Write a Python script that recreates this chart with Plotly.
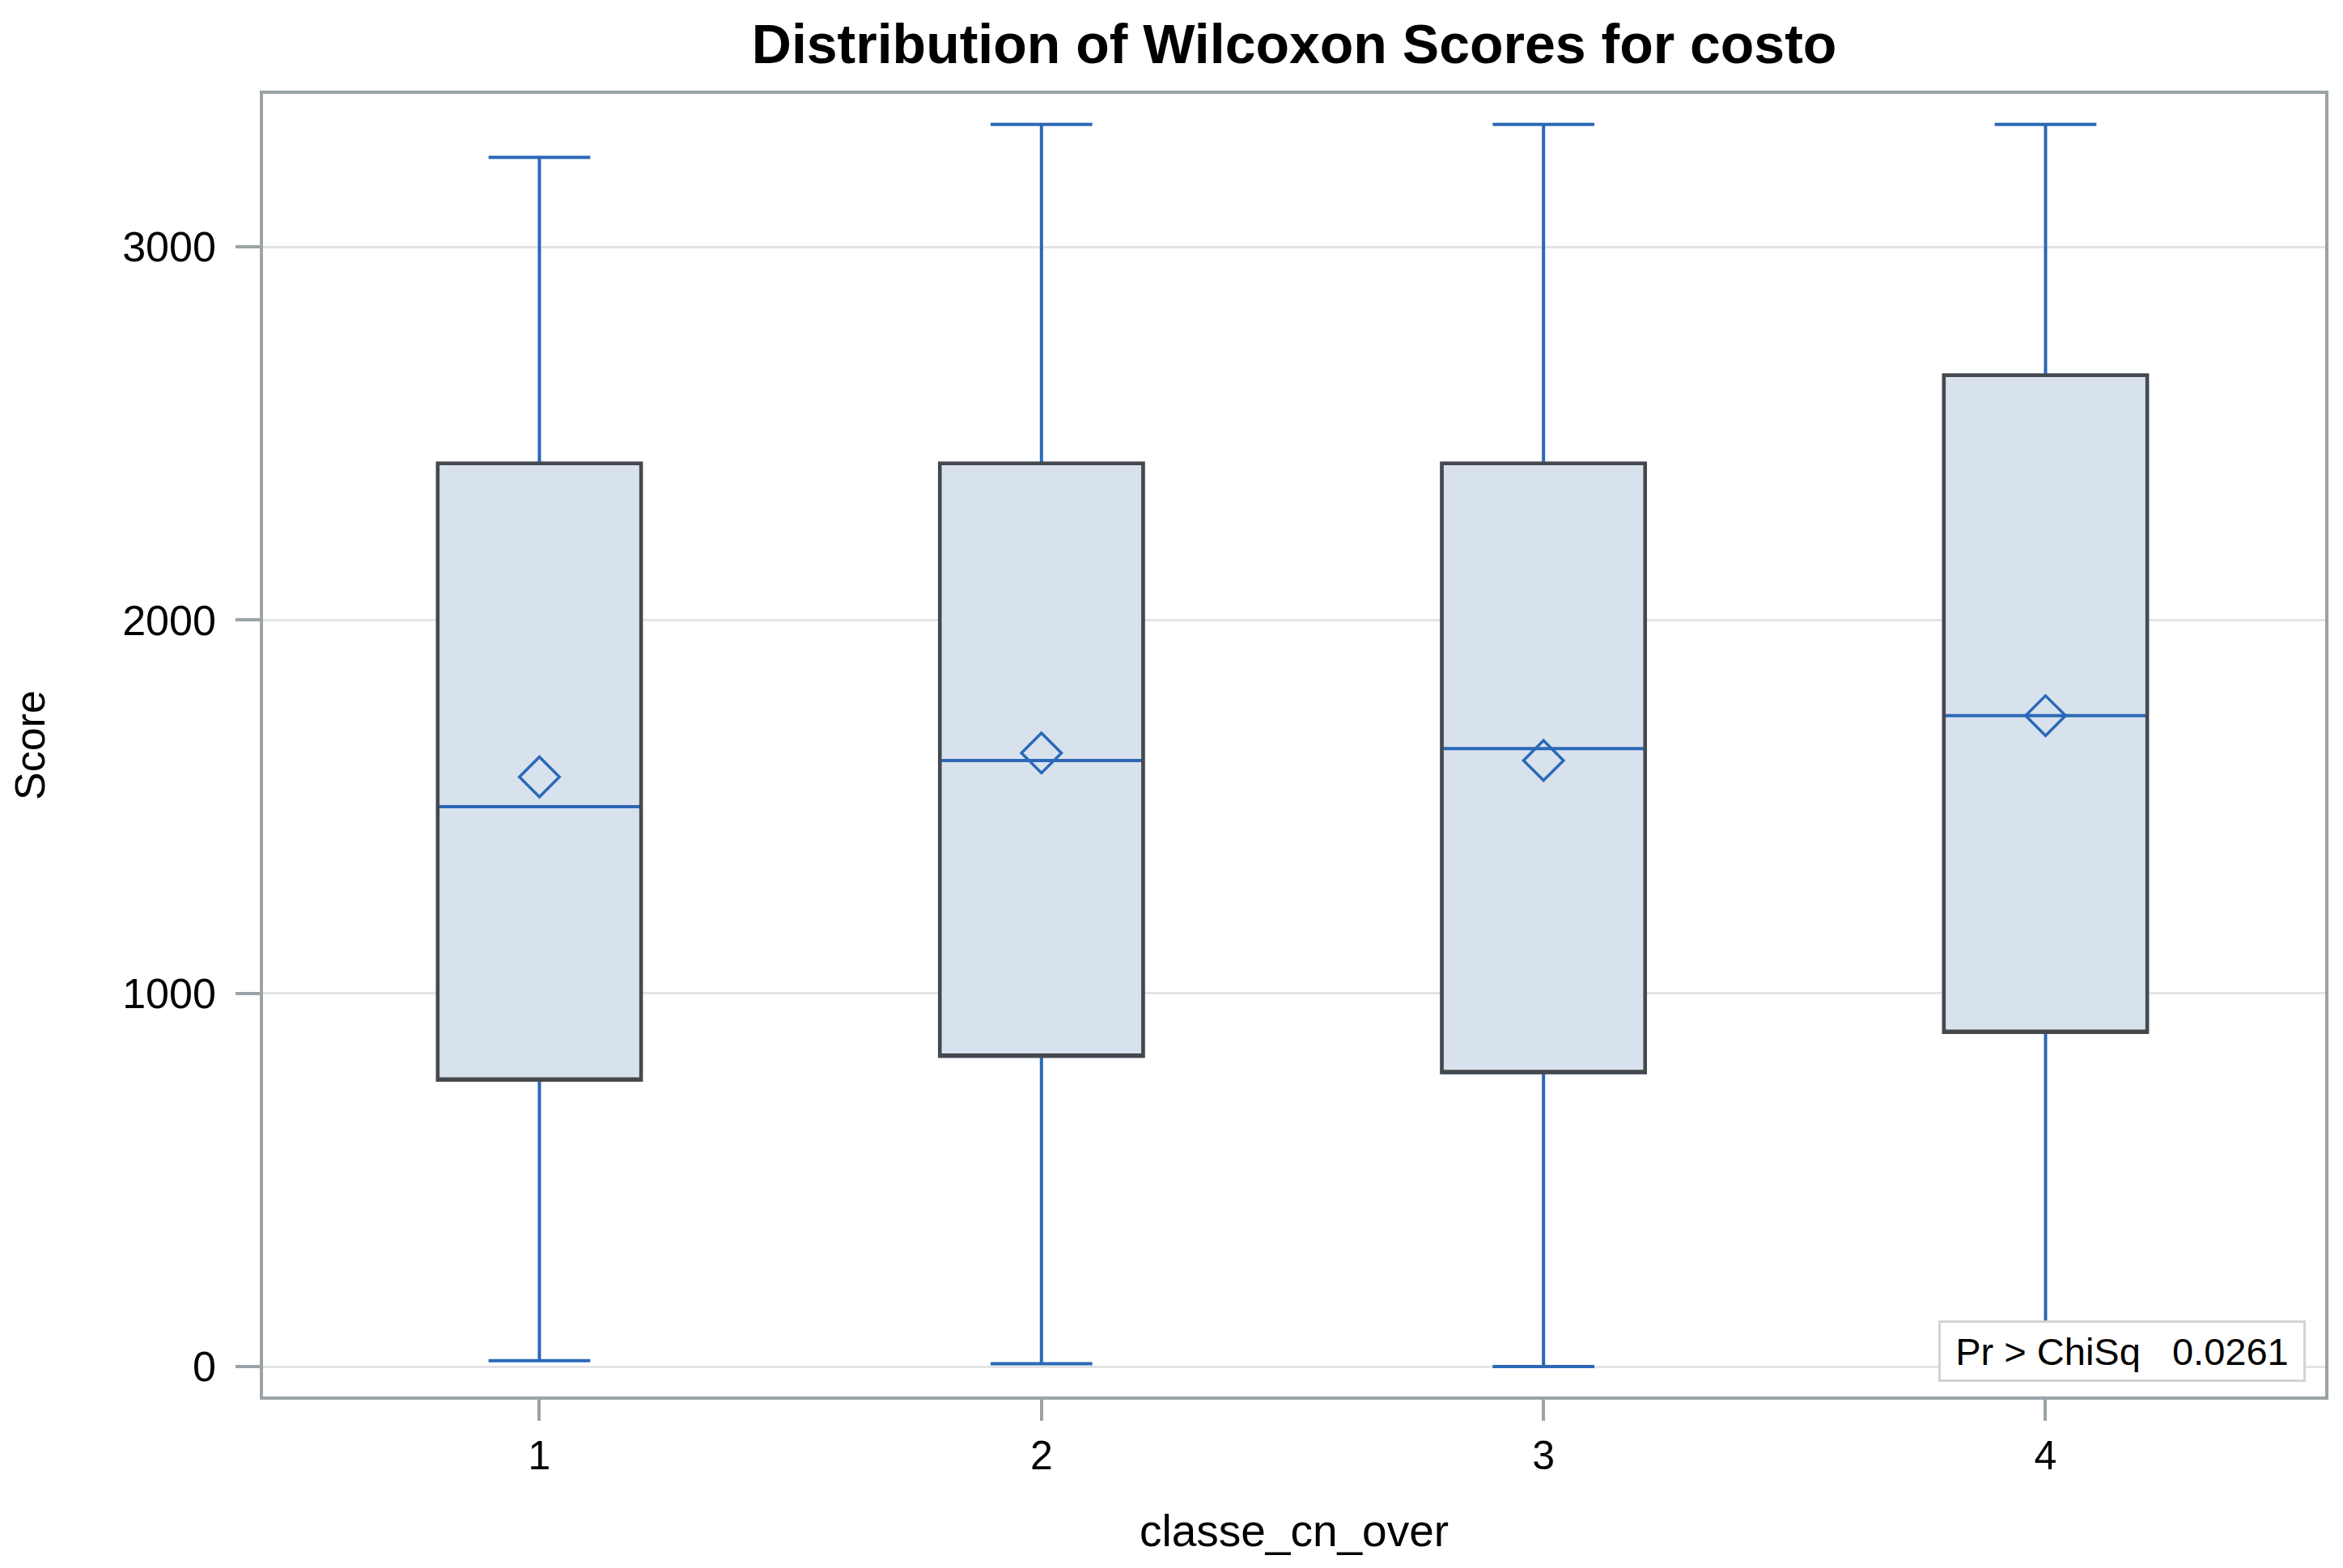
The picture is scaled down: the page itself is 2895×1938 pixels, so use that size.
import plotly.graph_objects as go

categories = [1, 2, 3, 4]
q1 = [768, 832, 788, 896]
median = [1500, 1624, 1656, 1744]
q3 = [2420, 2420, 2420, 2656]
lower = [16, 8, 0, 40]
upper = [3240, 3328, 3328, 3328]
means = [1580, 1644, 1624, 1744]
y_ticks = [0, 1000, 2000, 3000]

BLUE = "#2b68b7"
FILL = "#d8e2ed"
OUTLINE = "#46494c"
FRAME = "#9ba3a6"
FONT = "Liberation Sans, Arial, sans-serif"
NB = "\u00a0"

fig = go.Figure()
fig.add_trace(go.Box(
    x=categories, q1=q1, median=median, q3=q3,
    lowerfence=lower, upperfence=upper,
    width=0.405, whiskerwidth=0.5,
    fillcolor=FILL, line=dict(color=BLUE, width=4),
    boxpoints=False, showlegend=False, hoverinfo="skip",
))
fig.add_trace(go.Box(
    x=categories, q1=q1, median=q1, q3=q3,
    lowerfence=q1, upperfence=q3,
    width=0.405, whiskerwidth=0,
    fillcolor="rgba(0,0,0,0)", line=dict(color=OUTLINE, width=4.5),
    boxpoints=False, showlegend=False, hoverinfo="skip",
))
fig.add_trace(go.Scatter(
    x=categories, y=means, mode="markers",
    marker=dict(symbol="diamond-open", size=38, color=BLUE, line=dict(width=3.5, color=BLUE)),
    showlegend=False,
))

fig.update_layout(
    width=2895, height=1938,
    margin=dict(l=317, r=30, t=108, b=220),
    paper_bgcolor="white", plot_bgcolor="white",
    boxmode="overlay",
    font=dict(family=FONT, color="black"),
    title=dict(text="<b>Distribution of Wilcoxon Scores for costo</b>",
               x=0.5496, xanchor="center", y=0.9763, yanchor="middle",
               font=dict(size=68, family=FONT, color="black")),
    xaxis=dict(
        range=[0.4495, 4.557], tickmode="array", tickvals=categories,
        ticktext=[str(c) for c in categories],
        showgrid=False, zeroline=False, automargin=False,
        showline=True, mirror=True, linecolor=FRAME, linewidth=3.5,
        ticks="outside", ticklen=26, tickwidth=3.5, tickcolor=FRAME,
        tickfont=dict(size=50, family=FONT, color="black"),
        title=dict(text="classe_cn_over", font=dict(size=55, family=FONT, color="black"), standoff=48),
    ),
    yaxis=dict(
        range=[-80, 3410], tickmode="array", tickvals=y_ticks,
        showgrid=True, gridcolor="#e4e4e4", gridwidth=3, zeroline=False, automargin=False,
        showline=True, mirror=True, linecolor=FRAME, linewidth=3.5,
        ticks="outside", ticklen=30, tickwidth=3.5, tickcolor=FRAME, ticklabelstandoff=14,
        tickfont=dict(size=52, family=FONT, color="black"),
        title=dict(text="Score", font=dict(size=52, family=FONT, color="black"), standoff=80),
    ),
)

fig.add_annotation(
    xref="paper", yref="paper", x=0.9906, y=0.0112, xanchor="right", yanchor="bottom",
    text="Pr > ChiSq" + NB * 3 + "0.0261", showarrow=False,
    font=dict(size=47, family=FONT, color="black"),
    width=430, height=52, align="center",
    bgcolor="white", bordercolor="#d3d3d3", borderwidth=3, borderpad=9,
)

fig.write_html("out.html")
